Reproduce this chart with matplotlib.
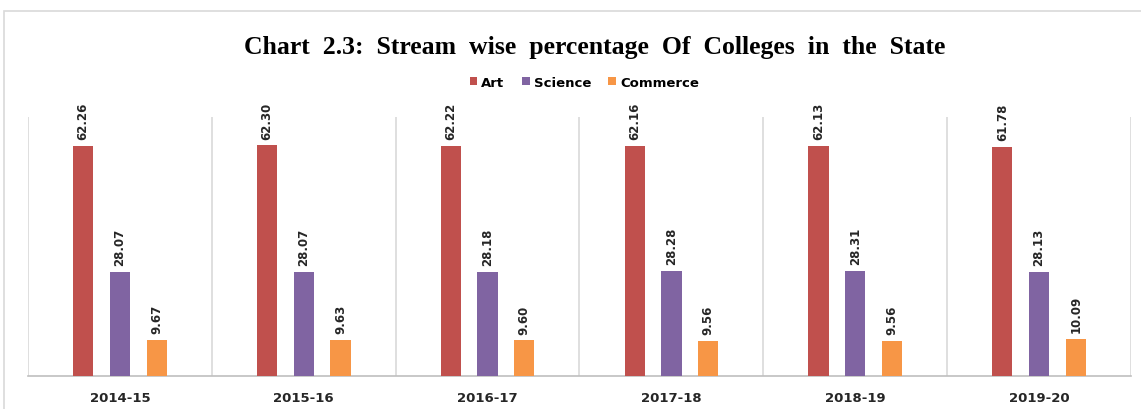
import matplotlib
matplotlib.use("Agg")
import matplotlib.pyplot as plt
import numpy as np
from matplotlib.patches import Rectangle

years = ["2014-15", "2015-16", "2016-17", "2017-18", "2018-19", "2019-20"]
art = [62.26, 62.30, 62.22, 62.16, 62.13, 61.78]
science = [28.07, 28.07, 28.18, 28.28, 28.31, 28.13]
commerce = [9.67, 9.63, 9.60, 9.56, 9.56, 10.09]

series = [("Art", art, "#c0504d"), ("Science", science, "#8064a2"), ("Commerce", commerce, "#f79646")]

fig = plt.figure(figsize=(11.41, 4.10), dpi=100)
fig.patches.append(Rectangle((4/1141, -0.1), 1.2, 0.971 + 0.1, transform=fig.transFigure,
                             fill=False, edgecolor="#d9d9d9", linewidth=1.2, zorder=0))
ax = fig.add_axes([28/1141, 33/410, 1103/1141, 259/410])

x = np.arange(len(years))
width = 0.11
offsets = [-0.2, 0.0, 0.2]
for (name, vals, color), off in zip(series, offsets):
    bars = ax.bar(x + off, vals, width, color=color, label=name, zorder=3)
    for b, v in zip(bars, vals):
        ax.annotate(f"{v:.2f}", (b.get_x() + b.get_width()/2, v), xytext=(0, 5),
                    textcoords="offset points", rotation=90, ha="center", va="bottom",
                    fontsize=8.5, fontweight="bold", color="#262626", family="DejaVu Sans")

ax.set_xlim(-0.5, len(years) - 0.5)
ax.set_ylim(0, 70)
ax.set_yticks([])
ax.set_xticks(x)
ax.set_xticklabels(years, fontsize=9.5, fontweight="bold", color="#262626", family="DejaVu Sans")
ax.set_xticks(np.arange(-0.5, len(years)), minor=True)
ax.tick_params(axis="x", which="both", length=0, pad=11)
ax.grid(axis="x", which="minor", color="#d9d9d9", linewidth=1.2, zorder=0)
for s in ["top", "right", "left"]:
    ax.spines[s].set_visible(False)
ax.spines["bottom"].set_color("#bfbfbf")
ax.spines["bottom"].set_linewidth(1.2)

title = "Chart 2.3: Stream wise percentage Of Colleges in the State".replace(" ", "  ")
fig.text(0.521, 0.885, title,
         ha="center", va="center", fontsize=18.5, fontweight="bold", family="Liberation Serif")
fig.legend(loc="center", bbox_to_anchor=(0.512, 0.797), ncol=3, frameon=False,
           handlelength=0.6, handleheight=0.6, handletextpad=0.3, columnspacing=1.3,
           prop={"size": 9.5, "weight": "bold", "family": "DejaVu Sans"})

fig.savefig("out.png", dpi=100)
